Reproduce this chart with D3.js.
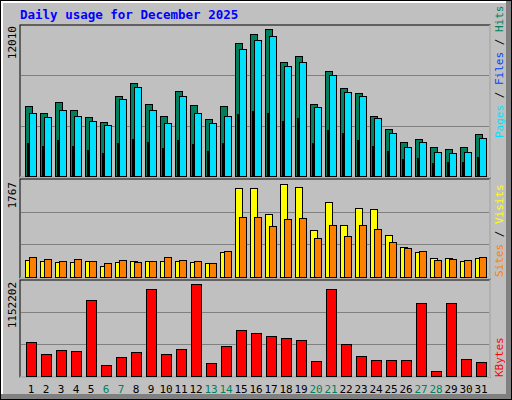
<!DOCTYPE html>
<html><head><meta charset="utf-8">
<script src="https://cdn.jsdelivr.net/npm/d3@7"></script>
<style>body{margin:0;background:#fff}</style>
</head><body>
<script>
const days = d3.range(1, 32)
const weekend = [6, 7, 13, 14, 20, 21, 27, 28]
const hits = [5765, 5204, 6085, 5444, 4883, 4483, 6566, 7607, 5925, 4964, 6966, 5845, 4724, 5765, 10889, 11610, 12010, 9368, 9849, 5925, 8568, 7207, 6806, 4964, 3923, 2802, 3122, 2402, 2242, 2402, 3523]
const files = [5204, 4883, 5444, 4964, 4563, 4243, 6325, 7287, 5444, 4403, 6566, 5204, 4403, 4964, 10409, 11129, 11450, 8968, 9368, 5685, 8247, 6886, 6566, 4803, 3603, 2402, 2802, 2002, 1922, 2002, 3203]
const pages = [2722, 2482, 2962, 2482, 2162, 1922, 2722, 3122, 2802, 2322, 3042, 2642, 2082, 2722, 5124, 5364, 5204, 4563, 4803, 2722, 3843, 3603, 3042, 2482, 2082, 1441, 1521, 1121, 1201, 1201, 1601]
const visits = [346, 314, 294, 294, 314, 218, 294, 326, 314, 326, 314, 294, 275, 480, 1690, 1690, 1210, 1767, 1709, 902, 1421, 998, 1325, 1306, 806, 576, 480, 384, 384, 314, 384]
const sites = [390, 365, 326, 365, 326, 288, 346, 294, 326, 390, 346, 326, 288, 499, 1152, 1152, 979, 1114, 1133, 749, 998, 787, 998, 922, 672, 557, 499, 346, 365, 346, 403]
const kbytes = [430000, 279000, 329000, 317000, 950000, 152000, 253000, 304000, 1089000, 279000, 342000, 1152202, 177000, 380000, 582000, 544000, 506000, 481000, 456000, 203000, 1089000, 405000, 266000, 215000, 215000, 215000, 912000, 76000, 912000, 228000, 190000]

const W = 512, H = 400
const mono = 'DejaVu Sans Mono, monospace'
const svg = d3.select('body').append('svg').attr('width', W).attr('height', H)
  .style('display', 'block')

// frame with bevel
svg.append('rect').attr('width', W).attr('height', H).attr('fill', '#000')
svg.append('rect').attr('x', 1).attr('y', 1).attr('width', W - 2).attr('height', H - 2).attr('fill', '#808080')
svg.append('rect').attr('x', 1).attr('y', 1).attr('width', W - 7).attr('height', H - 7).attr('fill', '#fff')
svg.append('rect').attr('x', 3).attr('y', 3).attr('width', W - 9).attr('height', H - 9).attr('fill', '#c0c0c0')

svg.append('text').attr('x', 20).attr('y', 19).text('Daily usage for December 2025')
  .attr('font-family', mono).attr('font-weight', 'bold').attr('font-size', 12.5).attr('fill', '#0000ff')

const x = d3.scaleBand().domain(days).range([25, 490]).paddingInner(0)
const xs = d => 25 + (d - 1) * 15

const panel = (y0, y1) => {
  const g = svg.append('g')
  g.append('rect').attr('x', 20).attr('y', y0).attr('width', 470).attr('height', y1 - y0)
    .attr('fill', '#c0c0c0').attr('stroke', '#000')
  g.append('path').attr('d', `M20,${y1}H490V${y0}`).attr('stroke', '#fff').attr('fill', 'none')
  const hgt = y1 - y0
  ;[1 / 3, 2 / 3].forEach(f => g.append('line').attr('x1', 21).attr('x2', 489)
    .attr('y1', Math.round(y1 - 1 - f * (hgt - 1)) + 0.5).attr('y2', Math.round(y1 - 1 - f * (hgt - 1)) + 0.5)
    .attr('stroke', '#808080'))
  return g
}

const bars = (g, data, y, dx, w, fill) => {
  g.append('g').selectAll('rect').data(days).join('rect')
    .attr('x', d => xs(d) + dx + 0.5)
    .attr('y', (d, i) => Math.round(y(data[i])) + 0.5)
    .attr('width', w)
    .attr('height', (d, i) => y(0) - Math.round(y(data[i])) - 1)
    .attr('fill', fill).attr('stroke', '#000')
}

const axisLabel = (text, y) => svg.append('text').text(text)
  .attr('transform', `translate(16,${y}) rotate(-90)`).attr('text-anchor', 'end')
  .attr('font-family', mono).attr('font-size', 11).attr('fill', '#000')

const legend = (parts, y) => {
  const t = svg.append('text').attr('transform', `translate(503,${y}) rotate(-90)`)
    .attr('font-family', mono).attr('font-size', 11)
  parts.forEach(([s, c]) => t.append('tspan').text(s).attr('fill', c))
}

// top panel
const g1 = panel(25, 177)
const y1 = d3.scaleLinear().domain([0, 12010]).range([177, 29])
bars(g1, hits, y1, 0, 7, '#00805c')
bars(g1, files, y1, 4, 7, '#00e0ff')
bars(g1, pages, y1, 2, 1, '#0040ff')
axisLabel('12010', 26)
legend([['Pages', '#00e0ff'], [' / ', '#000'], ['Files', '#0040ff'], [' / ', '#000'], ['Hits', '#00805c']], 138)

// middle panel
const g2 = panel(179, 278)
const y2 = d3.scaleLinear().domain([0, 1767]).range([278, 184])
bars(g2, visits, y2, 0, 7, '#ffff00')
bars(g2, sites, y2, 4, 7, '#ff8000')
axisLabel('1767', 182)
legend([['Sites', '#ff8000'], [' / ', '#000'], ['Visits', '#ffff00']], 277)

// bottom panel
const g3 = panel(280, 377)
const y3 = d3.scaleLinear().domain([0, 1152202]).range([377, 284])
bars(g3, kbytes, y3, 1, 10, '#ff0000')
axisLabel('1152202', 282)
legend([['KBytes', '#ff0000']], 377)

svg.append('g').selectAll('text').data(days).join('text')
  .attr('x', d => xs(d) + 6).attr('y', 393).attr('text-anchor', 'middle')
  .attr('font-family', mono).attr('font-size', 11)
  .attr('fill', d => weekend.includes(d) ? '#00805c' : '#000')
  .text(d => d)
</script>
</body></html>
